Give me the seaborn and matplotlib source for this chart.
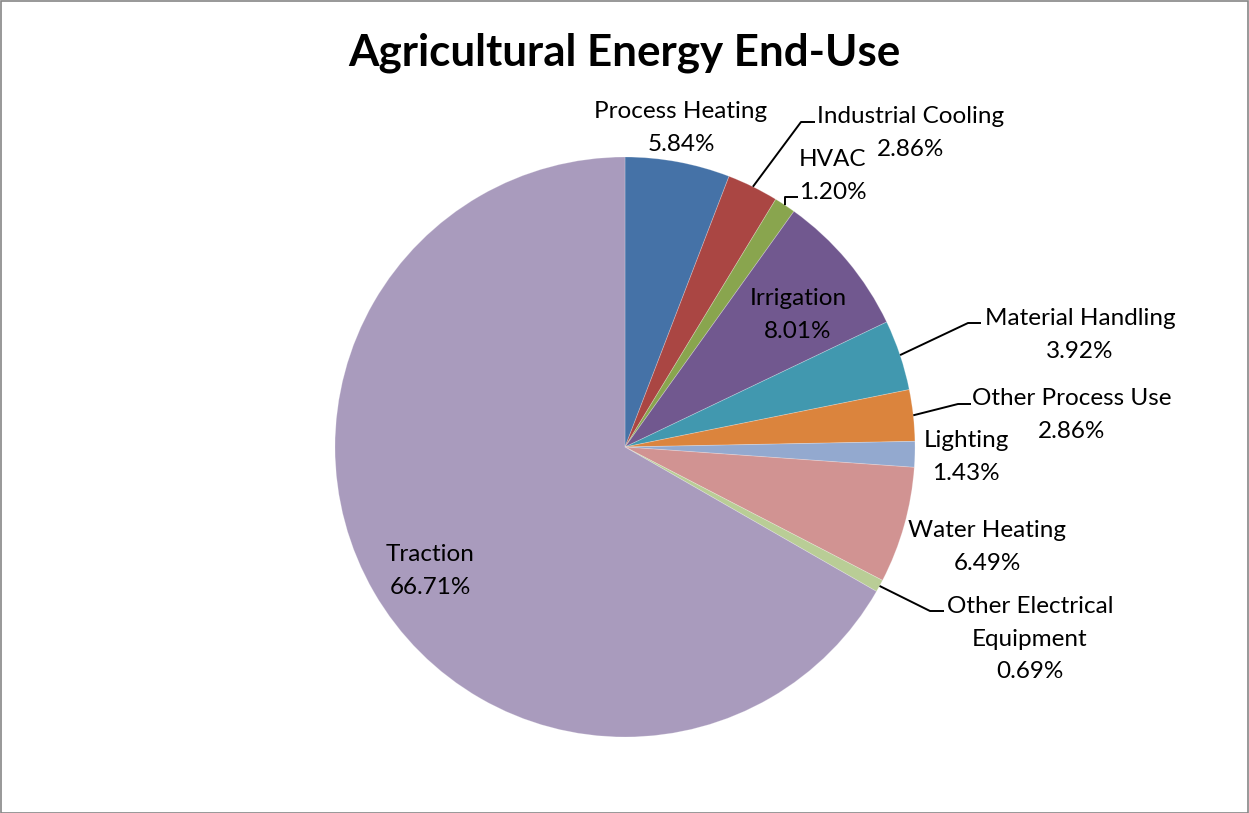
import matplotlib
matplotlib.use("Agg")
import matplotlib.pyplot as plt
import seaborn as sns
import numpy as np
from matplotlib.patches import Rectangle

# ---- data ----
categories = ["Process Heating", "Industrial Cooling", "HVAC", "Irrigation",
              "Material Handling", "Other Process Use", "Lighting",
              "Water Heating", "Other Electrical\nEquipment", "Traction"]
values = [5.84, 2.86, 1.20, 8.01, 3.92, 2.86, 1.43, 6.49, 0.69, 66.71]
pct_labels = ["5.84%", "2.86%", "1.20%", "8.01%", "3.92%", "2.86%", "1.43%",
              "6.49%", "0.69%", "66.71%"]
colors = ["#4572A7", "#AA4643", "#89A54E", "#71588F", "#4198AF",
          "#DB843D", "#93A9CF", "#D19392", "#B9CD96", "#A99BBD"]
title = "Agricultural Energy End-Use"

# ---- layout (pixel coords, y from top) ----
W, H = 1249, 813
CX, CY, R = 625, 447, 290
LINE_STEP = 32.5
label_pos = [(681, 126), (911, 131), (833, 174), (798, 313), (1080, 333),
             (1072, 413), (966, 455), (987, 545), (1030, 637), (430, 569)]
# knee point and end point of leader lines (None = no leader)
leaders = [None, ((801, 122), (815, 122)), ((785, 197), (798, 197)), None,
           ((968, 323), (981, 323)), ((958, 404), (971, 404)), None, None,
           ((930, 611), (944, 611)), None]

sns.set_theme(style="white")
plt.rcParams["font.family"] = ["Lato", "DejaVu Sans"]
palette = sns.color_palette(colors)

fig = plt.figure(figsize=(W / 100, H / 100), dpi=100)
ax = fig.add_axes([0, 0, 1, 1])

wedges, _ = ax.pie(values, colors=palette, startangle=90, counterclock=False,
                   center=(CX, H - CY), radius=R, frame=True,
                   wedgeprops=dict(edgecolor=(1, 1, 1, 0.25), linewidth=0.6))
ax.set_xlim(0, W)
ax.set_ylim(0, H)
ax.set_aspect("equal")
ax.axis("off")

for i, (cat, p) in enumerate(zip(categories, pct_labels)):
    lx, ly = label_pos[i]
    lines = cat.split("\n") + [p]
    n = len(lines)
    for j, line in enumerate(lines):
        y = ly + (j - (n - 1) / 2) * LINE_STEP
        ax.text(lx, H - y, line, ha="center", va="center_baseline",
                fontsize=17.5, color="black")
    if leaders[i] is not None:
        w = wedges[i]
        mid = np.deg2rad((w.theta1 + w.theta2) / 2)
        sx = CX + R * np.cos(mid)
        sy = (H - CY) + R * np.sin(mid)
        (kx, ky), (ex, ey) = leaders[i]
        ax.plot([sx, kx, ex], [sy, H - ky, H - ey], color="black", lw=1.4,
                solid_capstyle="butt")

ax.text(624, H - 53, title, ha="center", va="center", fontsize=31.6,
        fontweight="bold", color="black")

fig.patches.append(Rectangle((0.5 / W, 0.5 / H), 1 - 1.5 / W, 1 - 1.5 / H,
                             transform=fig.transFigure, fill=False,
                             edgecolor="#868686", linewidth=1.2))
fig.savefig("out.png", dpi=100, facecolor="white")
